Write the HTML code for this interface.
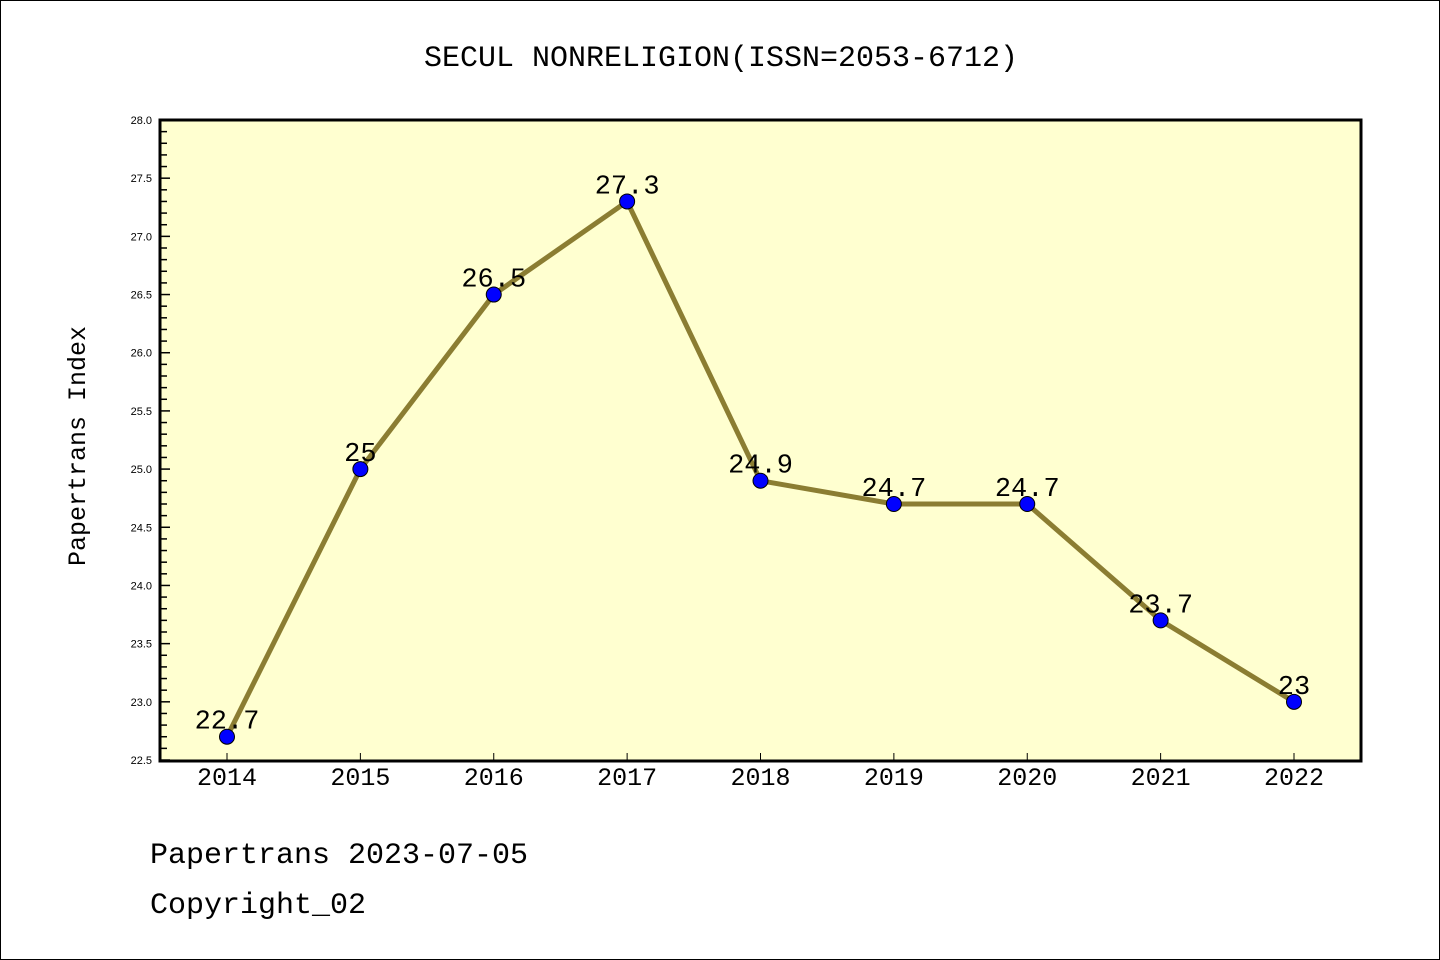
<!DOCTYPE html>
<html><head><meta charset="utf-8"><style>
html,body{margin:0;padding:0;background:#fff}
svg{display:block}
text{font-family:"Liberation Mono","WenQuanYi Zen Hei",monospace}
text.sans{font-family:"Liberation Sans",sans-serif}
</style></head><body>
<svg id="chart" width="1440" height="960" xmlns="http://www.w3.org/2000/svg">
<rect x="0.5" y="0.5" width="1439" height="959" fill="#fff" stroke="#000" stroke-width="1"/>
<text x="721" y="66" text-anchor="middle" font-size="30">SECUL NONRELIGION(ISSN=2053-6712)</text>
<rect x="160" y="120" width="1201" height="641" fill="#ffffd0"/>
<g id="yaxis"></g>
<g id="xaxis"></g>
<g id="series"></g>
<rect x="160" y="120" width="1201" height="641" fill="none" stroke="#000" stroke-width="3"/>
<text transform="translate(85,446) rotate(-90)" text-anchor="middle" font-size="25">Papertrans Index</text>
<text x="150" y="863" font-size="30">Papertrans 2023-07-05</text>
<text x="150" y="913" font-size="30">Copyright_02</text>
</svg>
<script>
const years = ["2014","2015","2016","2017","2018","2019","2020","2021","2022"];
const values = [22.7,25,26.5,27.3,24.9,24.7,24.7,23.7,23];
const valueLabels = ["22.7","25","26.5","27.3","24.9","24.7","24.7","23.7","23"];
const yTicks = ["22.5","23.0","23.5","24.0","24.5","25.0","25.5","26.0","26.5","27.0","27.5","28.0"];
const yMin = 22.5, yMax = 28.0;
const NS = "http://www.w3.org/2000/svg";
function yS(v){ return 760 - (v - yMin) / (yMax - yMin) * 640; }
function xS(i){ return 227 + i * (1294 - 227) / (years.length - 1); }
function mk(tag, attrs, parent){ const e = document.createElementNS(NS, tag); for (const k in attrs) e.setAttribute(k, attrs[k]); parent.appendChild(e); return e; }
const ya = document.getElementById('yaxis'), xa = document.getElementById('xaxis'), sg = document.getElementById('series');
const nMinor = Math.round((yMax - yMin) / 0.1);
for (let k = 0; k <= nMinor; k++) {
  const v = yMin + k * 0.1, y = yS(v), major = k % 5 === 0;
  const t = mk('line', {x1:160, x2:major?170:167, y1:y, y2:y, stroke:'#000', 'stroke-width':1.5}, ya);
  
  
}
yTicks.forEach(s => {
  const y = yS(parseFloat(s));
  const t = mk('text', {x:152, y:y+4, 'text-anchor':'end', 'font-size':11, 'class':'sans'}, ya);
  t.textContent = s;
  
  
});
years.forEach((yr, i) => {
  const x = xS(i);
  const tk = mk('line', {x1:x, x2:x, y1:760, y2:753, stroke:'#000', 'stroke-width':1}, xa);
  
  
  const t = mk('text', {x:x, y:785, 'text-anchor':'middle', 'font-size':25}, xa);
  t.textContent = yr;
  
  
});
const pts = values.map((v, i) => xS(i) + ',' + yS(v)).join(' ');
const line = mk('polyline', {points:pts, fill:'none', stroke:'#8b7d32', 'stroke-width':5, 'stroke-linejoin':'round'}, sg);


values.forEach((v, i) => {
  const c = mk('circle', {cx:xS(i), cy:yS(v), r:7.5, fill:'#0000ff', stroke:'#000', 'stroke-width':1}, sg);
  
  
  const t = mk('text', {x:xS(i), y:yS(v)-8, 'text-anchor':'middle', 'font-size':27}, sg);
  t.textContent = valueLabels[i];
  
  
});
</script>
</body></html>
